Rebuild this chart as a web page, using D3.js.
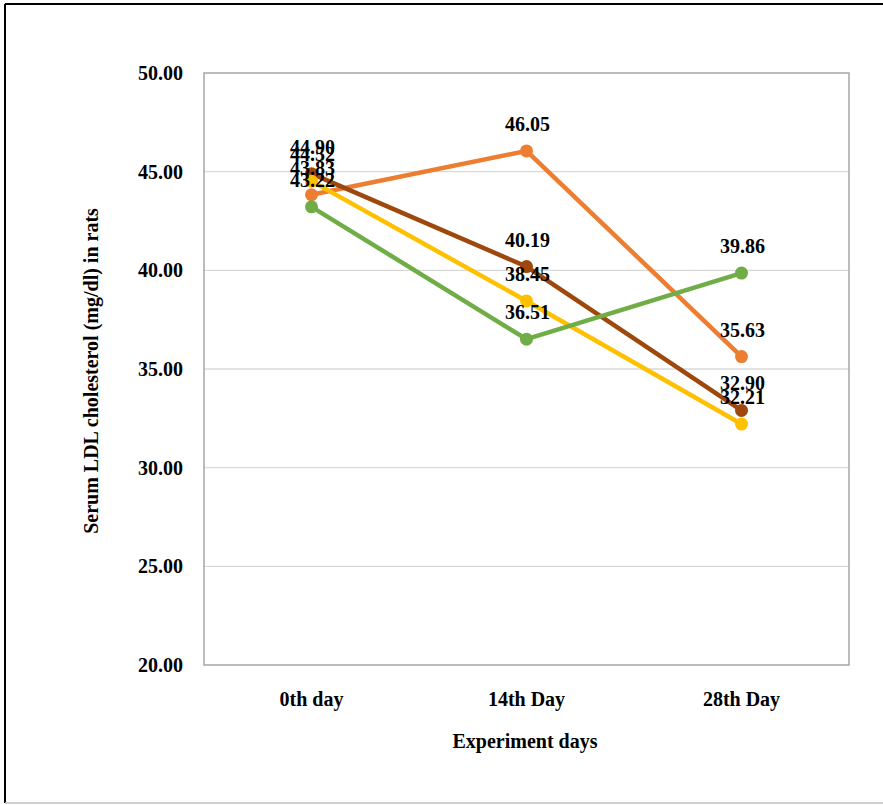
<!DOCTYPE html>
<html><head><meta charset="utf-8">
<script src="https://cdn.jsdelivr.net/npm/d3@7"></script>
<style>body{margin:0;background:#fff}svg{display:block}</style>
</head><body>
<script>
const categories = ["0th day", "14th Day", "28th Day"];
const seriesOrange = [43.83, 46.05, 35.63];
const seriesBrown = [44.90, 40.19, 32.90];
const seriesYellow = [44.52, 38.45, 32.21];
const seriesGreen = [43.22, 36.51, 39.86];
const yTicks = [20, 25, 30, 35, 40, 45, 50];
const series = [
  {name: "Orange", values: seriesOrange, color: "#ED7D31"},
  {name: "Brown", values: seriesBrown, color: "#9E480E"},
  {name: "Yellow", values: seriesYellow, color: "#FFC000"},
  {name: "Green", values: seriesGreen, color: "#70AD47"}
];
(function(){
const W = 883, H = 805;
const svg = d3.select("body").append("svg").attr("width", W).attr("height", H);
svg.append("rect").attr("x",0).attr("y",0).attr("width",W).attr("height",H).attr("fill","#fff");
svg.append("line").attr("x1",5).attr("x2",W).attr("y1",4).attr("y2",4).attr("stroke","#000").attr("stroke-width",2);
svg.append("line").attr("x1",5).attr("x2",5).attr("y1",4).attr("y2",803).attr("stroke","#000").attr("stroke-width",2);
svg.append("line").attr("x1",5).attr("x2",W).attr("y1",803).attr("y2",803).attr("stroke","#bfbfbf").attr("stroke-width",1.5);

const pl = 204, pr = 849, pt = 73, pb = 665;
const x = d3.scaleBand().domain(categories).range([pl, pr]);
const y = d3.scaleLinear().domain([20, 50]).range([pb, pt]);
const font = "'Liberation Serif','Times New Roman',serif";
const fs = 20;

svg.append("g").selectAll("line").data(yTicks.slice(1, -1)).join("line")
  .attr("x1", pl).attr("x2", pr).attr("y1", d => y(d)).attr("y2", d => y(d))
  .attr("stroke", "#d9d9d9").attr("stroke-width", 1.3);
svg.append("rect").attr("x", pl).attr("y", pt).attr("width", pr-pl).attr("height", pb-pt)
  .attr("fill", "none").attr("stroke", "#a6a6a6").attr("stroke-width", 1.5);

const yAxis = svg.append("g").attr("transform", `translate(${pl},0)`)
  .call(d3.axisLeft(y).tickValues(yTicks).tickFormat(d3.format(".2f")).tickSize(0).tickPadding(21));
yAxis.select(".domain").remove();
yAxis.selectAll("text").attr("font-family", font).attr("font-size", fs).attr("font-weight", "bold").attr("fill", "#000");

const xAxis = svg.append("g").attr("transform", `translate(0,${pb})`)
  .call(d3.axisBottom(x).tickSize(0).tickPadding(27));
xAxis.select(".domain").remove();
xAxis.selectAll("text").attr("font-family", font).attr("font-size", fs).attr("font-weight", "bold").attr("fill", "#000");

svg.append("text").attr("x", 525).attr("y", 748).attr("text-anchor", "middle")
  .attr("font-family", font).attr("font-size", fs).attr("font-weight", "bold").text("Experiment days");
svg.append("text").attr("transform", "translate(98,371) rotate(-90)").attr("text-anchor", "middle")
  .attr("font-family", font).attr("font-size", fs).attr("font-weight", "bold").text("Serum LDL  cholesterol (mg/dl) in rats");

const cx = c => x(c) + x.bandwidth()/2;
const line = d3.line().x((d,i) => cx(categories[i])).y(d => y(d));
series.forEach(s => {
  svg.append("path").datum(s.values).attr("d", line).attr("fill", "none")
    .attr("stroke", s.color).attr("stroke-width", 4.5).attr("stroke-linejoin", "round");
  svg.append("g").selectAll("circle").data(s.values).join("circle")
    .attr("cx", (d,i) => cx(categories[i])).attr("cy", d => y(d)).attr("r", 6.5).attr("fill", s.color);
});
series.forEach(s => {
  svg.append("g").selectAll("text").data(s.values).join("text")
    .attr("x", (d,i) => cx(categories[i]) + 1).attr("y", d => y(d) - 20)
    .attr("text-anchor", "middle").attr("font-family", font).attr("font-size", fs).attr("font-weight", "bold")
    .attr("fill", "#000").text(d => d.toFixed(2));
});
})();
</script>
</body></html>
